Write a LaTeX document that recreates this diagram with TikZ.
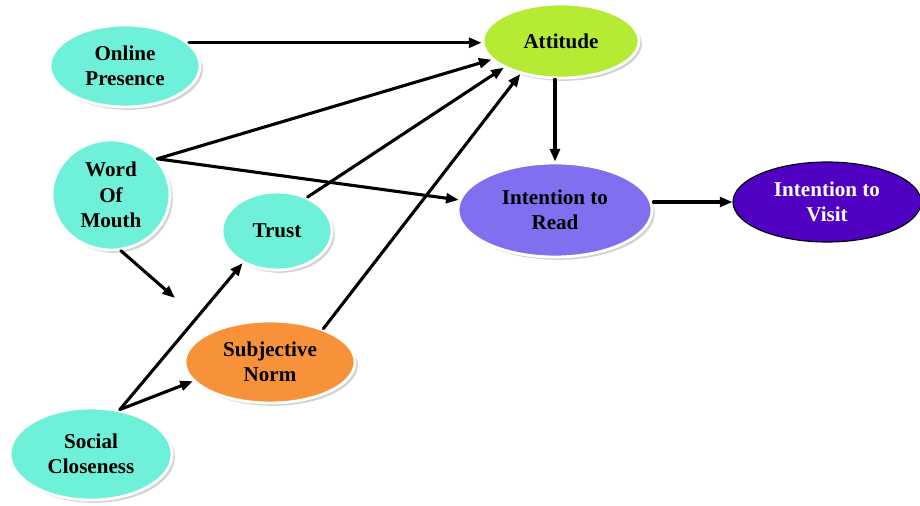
\documentclass[tikz,border=0pt]{standalone}
\usepackage{fontspec}
\setmainfont{Liberation Serif}
\usetikzlibrary{arrows.meta, shapes.geometric, shadows}
\definecolor{aqua}{HTML}{6FF0D9}
\definecolor{lime}{HTML}{B5EA35}
\definecolor{lilac}{HTML}{8070F0}
\definecolor{tangerine}{HTML}{F8923A}
\definecolor{violetdeep}{HTML}{5000C0}

\begin{document}
\begin{tikzpicture}[x=0.025cm, y=-0.025cm, line cap=round, line join=round,
  >={Triangle[length=9pt,width=7pt]},
  bubble/.style={ellipse, draw=white, line width=2pt, inner sep=0pt, align=center,
    font=\bfseries\fontsize{15}{18}\selectfont,
    drop shadow={shadow xshift=2pt, shadow yshift=-2pt, fill=gray!70}},
  link/.style={->, line width=2.2pt}]
\useasboundingbox (0,0) rectangle (920,506);
%========================
% constructs
%========================
\node[bubble, fill=aqua, minimum width=3.75cm, minimum height=2.05cm] (op) at (125,66) {Online\\Presence};
\node[bubble, fill=aqua, minimum width=2.95cm, minimum height=2.75cm] (wom) at (111,195) {Word\\Of\\Mouth};
\node[bubble, fill=aqua, minimum width=2.75cm, minimum height=1.95cm] (trust) at (277,231) {Trust};
\node[bubble, fill=tangerine, minimum width=4.25cm, minimum height=2.05cm] (sn) at (270,362) {Subjective\\Norm};
\node[bubble, fill=aqua, minimum width=4.05cm, minimum height=2.3cm] (sc) at (91,454) {Social\\Closeness};

% outcomes
\node[bubble, fill=lime, minimum width=3.9cm, minimum height=1.85cm] (att) at (561,41) {Attitude};
\node[bubble, fill=lilac, minimum width=4.85cm, minimum height=2.35cm] (ir) at (555,210) {Intention to\\Read};
\node[ellipse, draw=black, line width=0.8pt, inner sep=0pt, align=center,
  font=\bfseries\fontsize{15}{18}\selectfont, text=white,
  fill=violetdeep, minimum width=4.7cm, minimum height=2.0cm] (iv) at (827,202) {Intention to\\Visit};

\coordinate (loose) at (175,298);

%========================
% paths
%========================
\draw[link] (op.20) -- (att.west |- op.20);
\draw[link] (wom.38) -- (att.195);
\draw[link] (wom.38) -- (ir.174);
\draw[link] (trust.48) -- (att.205);
\draw[link] (sn.32) -- (att.219);
\draw[link] (wom.-80) -- (loose);
\draw[link] (sc.57) -- (trust.223);
\draw[link] (sc.57) -- (sn.194);
\draw[link] (ir.north |- att.south) -- (ir.north);
\draw[link] (iv.west -| ir.east) -- (iv.west);
\end{tikzpicture}
\end{document}
